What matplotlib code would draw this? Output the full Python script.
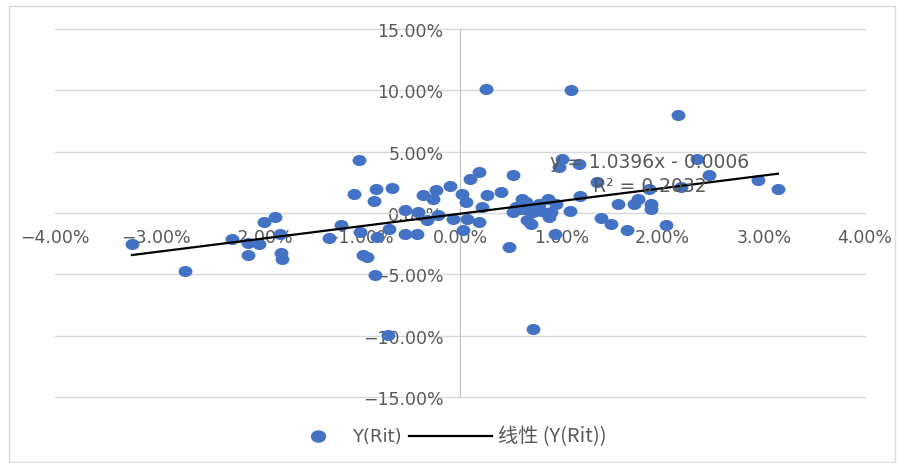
import matplotlib
matplotlib.use("Agg")
import matplotlib.pyplot as plt
import numpy as np
from matplotlib.path import Path
from matplotlib.patches import Rectangle
from matplotlib.ticker import PercentFormatter, MultipleLocator
from matplotlib.lines import Line2D

plt.rcParams['font.family'] = ['DejaVu Sans', 'Noto Sans CJK SC']

# market return (x) and stock return Y(Rit), fractions
x_rm = [-0.0324, -0.0272, -0.0225, -0.0209, -0.0209, -0.0199, -0.0194, -0.0183,
        -0.0178, -0.0177, -0.0176, -0.0129, -0.0118, -0.0105, -0.0100, -0.0099,
        -0.0096, -0.0092, -0.0085, -0.0083, -0.0084, -0.0082, -0.0071, -0.0067,
        -0.0070, -0.0054, -0.0054, -0.0042, -0.0041, -0.0037, -0.0033, -0.0027,
        -0.0024, -0.0022, -0.0010, -0.0007, 0.0002, 0.0003, 0.0006, 0.0007,
        0.0010, 0.0019, 0.0019, 0.0022, 0.0026, 0.0027, 0.0040, 0.0048,
        0.0052, 0.0052, 0.0061, 0.0064, 0.0066, 0.0070, 0.0072, 0.0078,
        0.0072, 0.0087, 0.0088, 0.0094, 0.0095, 0.0098, 0.0101, 0.0109,
        0.0110, 0.0118, 0.0119, 0.0135, 0.0139, 0.0149, 0.0156, 0.0165,
        0.0172, 0.0176, 0.0187, 0.0189, 0.0189, 0.0203, 0.0215, 0.0218,
        0.0234, 0.0246, 0.0294, 0.0314, 0.0055, 0.0075, 0.0080, 0.0065,
        0.0060, 0.0090]
y_rit = [-0.0255, -0.0476, -0.0209, -0.0245, -0.0345, -0.0250, -0.0073, -0.0033,
         -0.0168, -0.0323, -0.0372, -0.0204, -0.0095, 0.0152, 0.0435, -0.0155,
         -0.0340, -0.0359, 0.0095, 0.0198, -0.0503, -0.0196, -0.0997, 0.0204,
         -0.0128, 0.0027, -0.0168, -0.0168, 0.0008, 0.0144, -0.0060, 0.0117,
         0.0190, -0.0019, 0.0220, -0.0046, 0.0158, -0.0141, 0.0090, -0.0046,
         0.0280, 0.0334, -0.0073, 0.0049, 0.1008, 0.0144, 0.0171, -0.0277,
         0.0307, 0.0008, 0.0117, 0.0035, -0.0060, -0.0087, -0.0943, 0.0076,
         0.0008, 0.0117, -0.0033, -0.0168, 0.0076, 0.0375, 0.0443, 0.0016,
         0.1005, 0.0402, 0.0136, 0.0253, -0.0041, -0.0087, 0.0076, -0.0141,
         0.0076, 0.0117, 0.0198, 0.0076, 0.0030, -0.0100, 0.0796, 0.0212,
         0.0443, 0.0307, 0.0266, 0.0193, 0.0050, 0.0040, 0.0020, 0.0090,
         0.0030, 0.0010]

# Excel linear trendline
slope = 1.0396
intercept = -0.0006
r2 = 0.2032

legend_labels = ['Y(Rit)', '线性 (Y(Rit))']

blue = '#4472C4'
gray_txt = '#595959'

# slightly wide ellipse marker like the source
ellipse = Path(Path.unit_circle().vertices * [1.25, 1.0], Path.unit_circle().codes)

fig = plt.figure(figsize=(9.01, 4.64), dpi=100)
ax = fig.add_axes([55 / 901, 1 - 398 / 464, 810 / 901, 368 / 464])

ax.scatter(x_rm, y_rit, s=100, marker=ellipse, color=blue, linewidths=0, zorder=3)

xs = np.array([min(x_rm), max(x_rm)])
ax.plot(xs, slope * xs + intercept, color='black', lw=1.6, zorder=4)

ax.set_xlim(-0.04, 0.04)
ax.set_ylim(-0.15, 0.15)
ax.xaxis.set_major_locator(MultipleLocator(0.01))
ax.yaxis.set_major_locator(MultipleLocator(0.05))
ax.xaxis.set_major_formatter(PercentFormatter(1, decimals=2))
ax.yaxis.set_major_formatter(PercentFormatter(1, decimals=2))

# horizontal gridlines drawn from the tick values so the edge ones are not clipped
for yv in np.arange(-0.15, 0.151, 0.05):
    ax.axhline(yv, color='#d9d9d9', lw=1, zorder=0.5, clip_on=False)
for s in ['top', 'right']:
    ax.spines[s].set_visible(False)
ax.spines['left'].set_position(('data', 0))
ax.spines['bottom'].set_position(('data', 0))
ax.spines['left'].set_color('#bfbfbf')
ax.spines['bottom'].set_color('#d9d9d9')
ax.tick_params(length=0, labelsize=12.5, labelcolor=gray_txt)
ax.tick_params(axis='x', pad=11)
ax.tick_params(axis='y', pad=12)

ax.text(0.0187, 0.0416, f'y = {slope}x - {abs(intercept):.4f}', ha='center', va='center',
        fontsize=13.5, color=gray_txt, zorder=5)
ax.text(0.0187, 0.0228, f'R² = {r2}', ha='center', va='center',
        fontsize=13.5, color=gray_txt, zorder=5)

# legend drawn by hand to match Excel spacing
ly = 1 - 437 / 464
fig.add_artist(Line2D([318 / 901], [ly], ls='none', marker=ellipse, ms=10, color=blue,
                      transform=fig.transFigure))
fig.text(352 / 901, ly, legend_labels[0], ha='left', va='center', fontsize=13, color=gray_txt)
fig.add_artist(Line2D([409 / 901, 492 / 901], [ly, ly], color='black', lw=1.6,
                      transform=fig.transFigure))
fig.text(498 / 901, ly, legend_labels[1], ha='left', va='center', fontsize=14.5, color=gray_txt,
         family=['Noto Sans CJK SC', 'DejaVu Sans'])

fig.add_artist(Rectangle((9 / 901, 1 / 464), 886 / 901, 456 / 464, transform=fig.transFigure,
                         fill=False, edgecolor='#d9d9d9', lw=1))

fig.savefig('out.png', dpi=100)
